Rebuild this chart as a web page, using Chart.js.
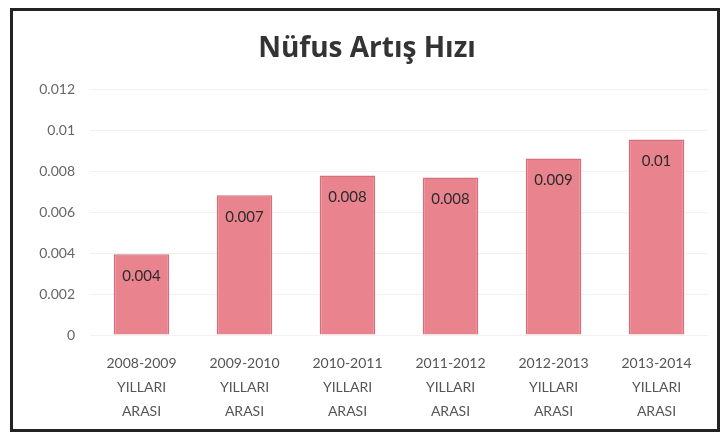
<!DOCTYPE html>
<html>
<head>
<meta charset="utf-8">
<script src="https://cdn.jsdelivr.net/npm/chart.js@4"></script>
<style>
  body { margin: 0; background: #fff; }
  #kutu {
    position: absolute; left: 10px; top: 8px;
    width: 704px; height: 418px;
    border: 3px solid #232323;
  }
</style>
</head>
<body>
<div id="kutu"><canvas id="grafik" width="704" height="418"></canvas></div>
<script>
// Nufus artis hizi - yillara gore
const donemler = [
    ['2008-2009', 'YILLARI', 'ARASI'],
    ['2009-2010', 'YILLARI', 'ARASI'],
    ['2010-2011', 'YILLARI', 'ARASI'],
    ['2011-2012', 'YILLARI', 'ARASI'],
    ['2012-2013', 'YILLARI', 'ARASI'],
    ['2013-2014', 'YILLARI', 'ARASI']
];
const artisHizi = [0.00395, 0.00683, 0.0078, 0.0077, 0.00863, 0.00956];
const yMin = 0;
const yMax = 0.012;
const yAdim = 0.002;

const yaziTipi = "Lato, 'Open Sans', sans-serif";

function bicim(v) {
    return Number(v.toFixed(3)).toString();
}

// bar uzerindeki deger etiketleri
const degerEtiketi = {
    id: 'degerEtiketi',
    afterDatasetsDraw(chart) {
        const ctx = chart.ctx;
        const meta = chart.getDatasetMeta(0);
        ctx.save();
        ctx.font = "15px " + yaziTipi;
        ctx.fillStyle = '#2b2b2b';
        ctx.textAlign = 'center';
        ctx.textBaseline = 'middle';
        meta.data.forEach((bar, i) => {
            ctx.fillText(bicim(artisHizi[i]), bar.x, bar.y + 22);
        });
        ctx.restore();
    }
};

let chartData = {
    labels: donemler,
    datasets: [{
        label: 'Nüfus Artış Hızı',
        data: artisHizi,
        backgroundColor: '#e9838e',
        borderColor: '#d4707b',
        borderWidth: 1.5,
        barPercentage: 0.54,
        categoryPercentage: 1
    }]
};

var grafico = new Chart(document.getElementById('grafik'), {
    type: 'bar',
    data: chartData,
    plugins: [degerEtiketi],
    options: {
        responsive: false,
        animation: false,
        layout: { padding: { left: 13, right: 9, top: 0, bottom: 0 } },
        plugins: {
            legend: { display: false },
            tooltip: { enabled: false },
            title: {
                display: true,
                text: 'Nüfus Artış Hızı',
                color: '#333',
                font: { family: "'Open Sans', sans-serif", size: 28, weight: 'bold' },
                padding: { top: 21, bottom: 24 }
            }
        },
        scales: {
            x: {
                grid: { display: false },
                border: { display: false },
                ticks: {
                    color: '#555',
                    padding: 9,
                    maxRotation: 0,
                    autoSkip: false,
                    font: { family: yaziTipi, size: 14, lineHeight: 1.7 }
                },
                afterFit(scale) { scale.height = 94; }
            },
            y: {
                min: yMin,
                max: yMax,
                grid: { color: '#f1f1f1', drawTicks: false },
                border: { display: false },
                ticks: {
                    stepSize: yAdim,
                    color: '#666',
                    padding: 15,
                    font: { family: yaziTipi, size: 14 },
                    callback: v => bicim(v)
                },
                afterFit(scale) { scale.width = 64; }
            }
        }
    }
});
</script>
</body>
</html>
